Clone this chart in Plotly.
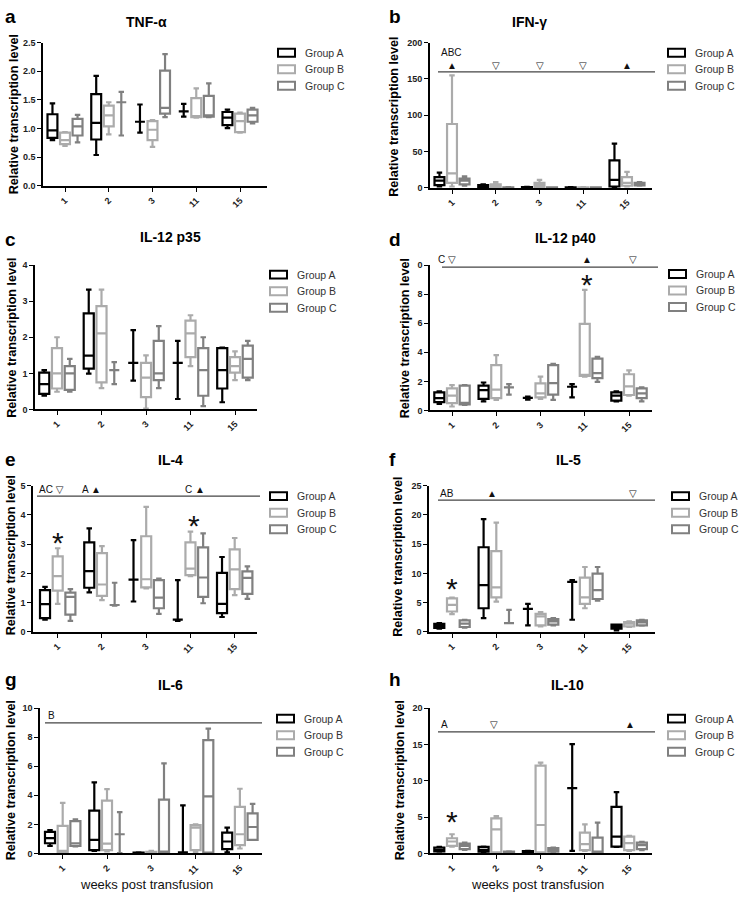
import plotly.graph_objects as go

W, H = 740, 898

weeks = ["1", "2", "3", "11", "15"]
groups = ["Group A", "Group B", "Group C"]
group_colors = ["#000000", "#ababab", "#808080"]

# each entry per week: (min, q1, median, q3, max)
tnf_A = [(0.80, 0.84, 0.97, 1.25, 1.44), (0.54, 0.81, 1.10, 1.60, 1.92), (0.93, 1.12, 1.12, 1.12, 1.42), (1.21, 1.30, 1.30, 1.30, 1.43), (1.01, 1.06, 1.19, 1.29, 1.33)]
tnf_B = [(0.70, 0.73, 0.80, 0.93, 0.94), (0.90, 1.04, 1.23, 1.40, 1.46), (0.68, 0.80, 0.98, 1.13, 1.15), (1.19, 1.20, 1.21, 1.53, 1.70), (0.93, 0.94, 1.13, 1.26, 1.28)]
tnf_C = [(0.76, 0.88, 1.04, 1.17, 1.24), (0.88, 1.46, 1.46, 1.46, 1.64), (1.20, 1.26, 1.36, 2.01, 2.30), (1.20, 1.21, 1.23, 1.57, 1.79), (1.09, 1.12, 1.23, 1.33, 1.36)]

ifn_A = [(2, 4, 10, 15, 21), (1, 1.5, 3, 4, 5), (0.5, 0.8, 1, 1.2, 1.5), (0.3, 0.5, 0.7, 0.9, 1.2), (1, 2, 11, 38, 61)]
ifn_B = [(2, 7, 20, 88, 155), (0.5, 1, 3, 5, 8), (0.5, 1.5, 4, 7, 11), (0.2, 0.4, 0.6, 0.8, 1), (2, 3, 7, 15, 22)]
ifn_C = [(3, 5, 10, 13, 16), (0.2, 0.3, 0.5, 0.8, 1), (0.2, 0.3, 0.5, 0.7, 0.9), (0.2, 0.3, 0.5, 0.7, 0.9), (3, 3.5, 5.5, 7, 8)]

p35_A = [(0.38, 0.43, 0.70, 1.02, 1.09), (0.99, 1.13, 1.49, 2.66, 3.32), (0.80, 1.29, 1.29, 1.29, 2.20), (0.29, 1.29, 1.29, 1.29, 1.90), (0.20, 0.58, 1.09, 1.70, 1.71)]
p35_B = [(0.49, 0.58, 1.00, 1.70, 2.00), (0.59, 0.75, 2.11, 2.86, 3.32), (0.02, 0.34, 0.88, 1.29, 1.50), (1.20, 1.45, 2.11, 2.46, 2.61), (0.81, 1.02, 1.20, 1.45, 1.61)]
p35_C = [(0.49, 0.54, 1.00, 1.20, 1.40), (0.70, 1.09, 1.09, 1.09, 1.31), (0.59, 0.81, 1.00, 1.90, 2.31), (0.09, 0.38, 1.09, 1.70, 2.00), (0.81, 0.88, 1.40, 1.77, 1.90)]

p40_A = [(0.45, 0.57, 0.84, 1.24, 1.31), (0.63, 0.79, 1.40, 1.70, 1.92), (0.75, 0.86, 0.86, 0.86, 0.95), (0.90, 1.63, 1.63, 1.63, 1.81), (0.63, 0.68, 1.02, 1.24, 1.31)]
p40_B = [(0.27, 0.50, 1.02, 1.52, 1.74), (0.72, 0.84, 1.43, 3.12, 3.80), (0.79, 0.90, 1.18, 1.86, 2.33), (2.33, 2.38, 2.42, 5.95, 8.30), (1.02, 1.06, 1.65, 2.49, 2.76)]
p40_C = [(0.38, 0.41, 0.52, 1.70, 1.74), (1.09, 1.58, 1.58, 1.58, 1.81), (0.72, 1.09, 1.88, 3.12, 3.21), (1.97, 2.22, 2.56, 3.57, 3.69), (0.63, 0.84, 1.18, 1.52, 1.58)]

il4_A = [(0.42, 0.47, 0.95, 1.43, 1.54), (1.35, 1.51, 2.08, 3.06, 3.54), (1.04, 1.79, 1.79, 1.79, 3.14), (0.38, 0.42, 0.42, 0.42, 1.77), (0.51, 0.64, 0.96, 2.02, 2.56)]
il4_B = [(0.96, 1.41, 1.91, 2.58, 2.86), (1.09, 1.23, 1.62, 2.69, 2.93), (1.49, 1.52, 1.80, 3.27, 4.27), (1.91, 1.94, 2.16, 3.06, 3.43), (1.26, 1.46, 2.14, 2.82, 3.21)]
il4_C = [(0.38, 0.59, 1.20, 1.34, 1.46), (0.90, 0.92, 0.92, 0.92, 1.68), (0.62, 0.81, 1.17, 1.77, 1.82), (0.98, 1.20, 1.86, 2.89, 3.37), (1.13, 1.30, 1.85, 2.07, 2.24)]

il5_A = [(0.56, 0.68, 1.07, 1.40, 1.50), (2.36, 4.05, 8.00, 14.47, 19.26), (1.13, 3.94, 3.94, 3.94, 4.79), (2.08, 8.56, 8.56, 8.56, 8.84), (0.28, 0.56, 0.96, 1.24, 1.24)]
il5_B = [(3.04, 3.49, 4.62, 5.74, 5.86), (5.18, 5.91, 7.60, 13.80, 18.69), (0.96, 1.13, 2.65, 3.10, 3.38), (4.05, 4.79, 5.91, 9.29, 11.09), (0.84, 0.96, 1.41, 1.69, 1.80)]
il5_C = [(0.73, 0.84, 1.41, 1.97, 2.08), (1.52, 1.52, 1.52, 1.52, 3.77), (1.13, 1.24, 1.80, 2.20, 2.36), (5.35, 5.63, 7.15, 9.97, 11.09), (1.07, 1.13, 1.63, 1.97, 2.08)]

il6_A = [(0.52, 0.70, 1.05, 1.48, 1.61), (0.18, 0.23, 0.93, 2.95, 4.89), (0.02, 0.04, 0.05, 0.06, 0.07), (0.02, 0.07, 0.07, 0.07, 3.30), (0.07, 0.30, 0.82, 1.43, 1.77)]
il6_B = [(0.02, 0.05, 0.18, 1.89, 3.48), (0.14, 0.23, 0.68, 3.64, 4.43), (0.02, 0.05, 0.07, 0.11, 0.18), (0.07, 0.23, 1.77, 1.95, 2.00), (0.34, 0.57, 1.32, 3.20, 4.45)]
il6_C = [(0.48, 0.52, 0.70, 2.23, 2.34), (0.02, 1.32, 1.32, 1.32, 2.84), (0.02, 0.05, 0.07, 3.70, 6.20), (0.02, 0.05, 3.93, 7.80, 8.59), (0.93, 0.93, 1.82, 2.75, 3.41)]

il10_A = [(0.23, 0.27, 0.50, 0.82, 0.91), (0.18, 0.23, 0.50, 0.91, 0.95), (0.09, 0.09, 0.18, 0.32, 0.36), (0.36, 9.00, 9.00, 9.00, 15.05), (0.91, 0.95, 2.32, 6.41, 8.45)]
il10_B = [(0.95, 1.05, 1.64, 2.09, 2.64), (0.09, 0.14, 3.32, 4.82, 5.14), (0.09, 0.14, 3.91, 12.09, 12.50), (0.36, 0.45, 1.27, 2.86, 4.00), (0.36, 0.45, 1.41, 2.32, 2.41)]
il10_C = [(0.50, 0.59, 1.05, 1.36, 1.50), (0.05, 0.10, 0.15, 0.25, 0.30), (0.18, 0.23, 0.45, 0.73, 0.82), (0.10, 0.12, 0.20, 2.18, 4.23), (0.45, 0.59, 1.14, 1.50, 1.59)]

panel_titles = ["TNF-α", "IFN-γ", "IL-12 p35", "IL-12 p40", "IL-4", "IL-5", "IL-6", "IL-10"]
panel_letters = ["a", "b", "c", "d", "e", "f", "g", "h"]
panel_data = [
    [tnf_A, tnf_B, tnf_C], [ifn_A, ifn_B, ifn_C], [p35_A, p35_B, p35_C], [p40_A, p40_B, p40_C],
    [il4_A, il4_B, il4_C], [il5_A, il5_B, il5_C], [il6_A, il6_B, il6_C], [il10_A, il10_B, il10_C],
]
y_max = [2.5, 200, 4, 10, 5, 25, 10, 20]
y_dtick = [0.5, 50, 1, 2, 1, 5, 2, 5]
y_ticktext_d = ["0", "2", "4", "6", "8", "0"]

# significance marks: (text, category position, value)
sig_lines = {1: 159.6, 3: 9.86, 4: 4.64, 5: 22.5, 6: 8.98, 7: 16.73}
sig_texts = {
    1: [("ABC", 0, 186), ("▲", 0, 169), ("▽", 1, 169), ("▽", 2, 169), ("▽", 3, 169), ("▲", 4, 169)],
    3: [("C ▽", -0.11, 10.36), ("▲", 3.04, 10.36), ("▽", 4.1, 10.36)],
    4: [("AC ▽", -0.15, 4.86), ("A ▲", 0.76, 4.86), ("C ▲", 3.1, 4.86)],
    5: [("AB", -0.11, 23.6), ("▲", 0.9, 23.6), ("▽", 4.09, 23.6)],
    6: [("B", -0.26, 9.5)],
    7: [("A", -0.16, 17.7), ("▽", 0.95, 17.7), ("▲", 4.02, 17.7)],
}
sig_stars = {3: [(3.04, 9.18)], 4: [(0, 3.34), (3.07, 3.91)], 5: [(0, 8.8)], 7: [(0, 5.54)]}

# ---- layout geometry (pixels) ----
geo_L = [43, 430, 35, 430, 33, 429, 40, 430]
geo_R = [267, 652, 257, 652, 257, 655, 262, 652]
geo_top = [38, 38, 263, 263, 486, 486, 711, 711]
geo_bot = [183, 185, 409, 410, 634, 634, 858, 858]
geo_c1 = [65, 452, 57, 452, 57.7, 452, 62.7, 452]
geo_s = [43.75, 43.75, 44.5, 44.25, 44.25, 44.3, 44.3, 44.3]
line_px = {1: (438, 655), 3: (442, 658), 4: (37, 260), 5: (438, 655), 6: (45, 262), 7: (438, 655)}
title_xy = [(146, 17), (529, 17), (170, 235), (565, 235.5), (170, 460), (568, 460), (170, 688), (567, 688)]
letter_xy = [(3, 12), (387, 12), (3, 237.5), (387, 237.5), (3, 459.5), (387, 459.5), (3, 682.5), (387, 682.5)]
ytitle_xy = [(13.5, 111), (394, 113), (12.5, 337), (405, 337), (10.5, 557), (398, 558), (11, 784), (400, 784)]
legend_xy = [(278, 48.3), (668, 48.3), (270, 272.7), (669, 272), (270, 496.7), (672, 496.7), (277, 721.7), (668, 721.7)]
legend_dy = 16.7
xtitle_xy = {6: (146, 889), 7: (537, 889)}

FONT = "Liberation Sans, Arial, DejaVu Sans, sans-serif"


def px_x(v):
    return v / W


def px_y(v):
    return 1 - v / H


fig = go.Figure()
annotations = []
shapes = []

for i in range(8):
    n = "" if i == 0 else str(i + 1)
    xa, ya = "x" + n, "y" + n
    for g in range(3):
        stats = panel_data[i][g]
        fig.add_trace(go.Box(
            x=weeks,
            lowerfence=[s[0] for s in stats],
            q1=[s[1] for s in stats],
            median=[s[2] for s in stats],
            q3=[s[3] for s in stats],
            upperfence=[s[4] for s in stats],
            name=groups[g],
            marker_color=group_colors[g],
            line=dict(color=group_colors[g], width=2.2),
            fillcolor="white",
            whiskerwidth=0.55,
            boxpoints=False,
            showlegend=False,
            hoverinfo="skip",
            alignmentgroup="panel%d" % i,
            offsetgroup=groups[g],
            xaxis=xa, yaxis=ya,
        ))

    L, R, c1, s = geo_L[i], geo_R[i], geo_c1[i], geo_s[i]
    xrange = [(L - c1) / s, (R - c1) / s]
    xkw = dict(
        domain=[px_x(L), px_x(R)], range=xrange, type="category",
        anchor=ya, showline=True, linecolor="black", linewidth=1.6,
        ticks="outside", ticklen=4, tickwidth=1.4, tickcolor="black",
        tickangle=-45, tickfont=dict(family=FONT, size=9, color="#222", weight="bold"),
        showgrid=False, zeroline=False, fixedrange=True,
    )
    ykw = dict(
        domain=[px_y(geo_bot[i]), px_y(geo_top[i])], range=[0, y_max[i]],
        anchor=xa, showline=True, linecolor="black", linewidth=1.6,
        ticks="outside", ticklen=4, tickwidth=1.4, tickcolor="black",
        tickfont=dict(family=FONT, size=9, color="#222", weight="bold"),
        showgrid=False, zeroline=False, fixedrange=True,
    )
    if i == 3:
        ykw.update(tickmode="array", tickvals=[0, 2, 4, 6, 8, 10], ticktext=y_ticktext_d)
    else:
        ykw.update(tickmode="linear", tick0=0, dtick=y_dtick[i])
        if i == 0:
            ykw.update(tickformat=".1f")
    fig.update_layout(**{"xaxis" + n: xkw, "yaxis" + n: ykw})

    # panel letter
    lx, ly = letter_xy[i]
    annotations.append(dict(text=panel_letters[i], x=px_x(lx), y=px_y(ly), xref="paper", yref="paper",
                            xanchor="left", yanchor="middle", showarrow=False,
                            font=dict(family=FONT, size=19, color="black", weight="bold")))
    # title
    tx, ty = title_xy[i]
    annotations.append(dict(text=panel_titles[i], x=px_x(tx), y=px_y(ty), xref="paper", yref="paper",
                            xanchor="center", yanchor="middle", showarrow=False,
                            font=dict(family=FONT, size=14, color="black", weight="bold")))
    # y-axis title
    yx, yy = ytitle_xy[i]
    annotations.append(dict(text="Relative transcription level", x=px_x(yx), y=px_y(yy),
                            xref="paper", yref="paper", textangle=-90,
                            xanchor="center", yanchor="middle", showarrow=False,
                            font=dict(family=FONT, size=12.6, color="black", weight="bold")))
    # x-axis title
    if i in xtitle_xy:
        xx, xy = xtitle_xy[i]
        annotations.append(dict(text="weeks post transfusion", x=px_x(xx), y=px_y(xy),
                                xref="paper", yref="paper", xanchor="center", yanchor="middle",
                                showarrow=False, font=dict(family=FONT, size=13, color="#111")))
    # legend (drawn manually)
    gx, gy = legend_xy[i]
    for g in range(3):
        cy = gy + g * legend_dy
        shapes.append(dict(type="rect", xref="paper", yref="paper",
                           x0=px_x(gx), x1=px_x(gx + 17), y0=px_y(cy - 4), y1=px_y(cy + 4),
                           line=dict(color=group_colors[g], width=2), fillcolor="white"))
        annotations.append(dict(text=groups[g], x=px_x(gx + 25), y=px_y(cy), xref="paper", yref="paper",
                                xanchor="left", yanchor="middle", showarrow=False,
                                font=dict(family=FONT, size=10.5, color="#333")))
    # significance bars
    if i in sig_lines:
        x0p, x1p = line_px[i]
        yv = sig_lines[i] / y_max[i]
        shapes.append(dict(type="line", xref=xa + " domain", yref=ya + " domain",
                           x0=(x0p - L) / (R - L), x1=(x1p - L) / (R - L), y0=yv, y1=yv,
                           line=dict(color="#444", width=1.2)))
        for (t, cx, cv) in sig_texts[i]:
            annotations.append(dict(text=t, x=cx, y=cv / y_max[i], xref=xa, yref=ya + " domain",
                                    xanchor="center", yanchor="middle", showarrow=False,
                                    font=dict(family="Liberation Sans, DejaVu Sans, sans-serif", size=10, color="#111")))
    if i in sig_stars:
        for (cx, cv) in sig_stars[i]:
            annotations.append(dict(text="*", x=cx, y=cv / y_max[i], xref=xa, yref=ya + " domain",
                                    xanchor="center", yanchor="middle", showarrow=False, yshift=-8,
                                    font=dict(family=FONT, size=30, color="#111")))

fig.update_layout(
    width=W, height=H, margin=dict(l=0, r=0, t=0, b=0),
    paper_bgcolor="white", plot_bgcolor="white",
    boxmode="group", boxgap=0.14, boxgroupgap=0.21,
    annotations=annotations, shapes=shapes, showlegend=False,
)

fig.write_html(
    "out.html",
    config={"displayModeBar": False},
    post_script="document.body.style.margin='0';document.body.style.overflow='hidden';",
)
